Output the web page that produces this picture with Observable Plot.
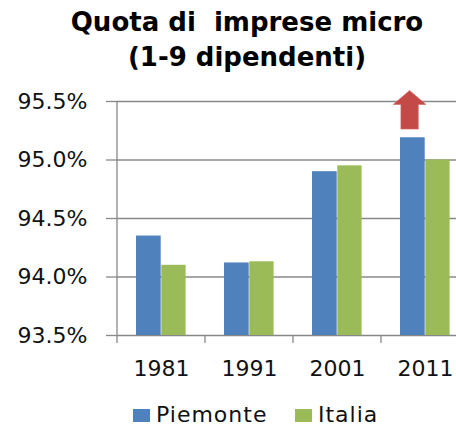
<!DOCTYPE html>
<html>
<head>
<meta charset="utf-8">
<script src="https://cdn.jsdelivr.net/npm/d3@7"></script>
<script src="https://cdn.jsdelivr.net/npm/@observablehq/plot@0.6"></script>
<style>
  html, body { margin: 0; padding: 0; background: #fff; overflow: hidden; }
  #wrap { width: 456px; height: 426px; position: relative; overflow: hidden; }
  #title { position: absolute; left: 0; top: 0; width: 494px; height: 76px; box-sizing: border-box; padding-top: 4.5px;
    text-align: center; font-family: "DejaVu Sans", sans-serif; font-weight: 700; font-size: 26px; line-height: 35px;
    color: #000; white-space: pre; }
  #chart { position: absolute; left: 0; top: 76px; }
  #legend { position: absolute; left: 0; top: 402px; width: 456px; height: 24px;
    font-family: "DejaVu Sans", sans-serif; font-size: 22px; color: #111; letter-spacing: 1px; }
  .sw { position: absolute; top: 7px; width: 17px; height: 13px; }
  .lt { position: absolute; top: 1px; line-height: 24px; white-space: nowrap; }
</style>
</head>
<body>
<div id="wrap">
  <div id="title"></div>
  <div id="chart"></div>
  <div id="legend"></div>
</div>
<script>
const titleLines = ["Quota di  imprese micro", "(1-9 dipendenti)"];
const years = ["1981", "1991", "2001", "2011"];
const seriesNames = ["Piemonte", "Italia"];
const piemonte = [94.35, 94.12, 94.90, 95.19];
const italia = [94.10, 94.13, 94.95, 95.00];
const yTicks = [93.5, 94.0, 94.5, 95.0, 95.5];
const colors = ["#4F81BD", "#9BBB59"];
const arrowYear = ["2011"];
const arrowLevels = [95.26, 95.47, 95.59]; // stem bottom, head base, tip

document.getElementById("title").textContent = titleLines.join("\n");

const rows = [];
years.forEach((y, i) => {
  rows.push({year: y, series: seriesNames[0], value: piemonte[i]});
  rows.push({year: y, series: seriesNames[1], value: italia[i]});
});
const yMin = yTicks[0], yMax = yTicks[yTicks.length - 1];
const gray = "#888888";

function decorations(index, scales) {
  const x = scales.x, y = scales.y;
  const bw = x.bandwidth ? x.bandwidth() : (x(years[1]) - x(years[0]));
  const g = d3.create("svg:g");
  const x0 = x(years[0]);
  g.append("line").attr("x1", x0).attr("x2", x0).attr("y1", y(yMax)).attr("y2", y(yMin) + 8)
    .attr("stroke", gray).attr("stroke-width", 1.3);
  years.forEach((yr) => {
    const xx = x(yr) + bw;
    g.append("line").attr("x1", xx).attr("x2", xx).attr("y1", y(yMin)).attr("y2", y(yMin) + 8)
      .attr("stroke", gray).attr("stroke-width", 1.3);
  });
  arrowYear.forEach((yr) => {
    const cx = x(yr) + 19 + 12.6 - 3;
    const yb = y(arrowLevels[0]), yh = y(arrowLevels[1]), yt = y(arrowLevels[2]);
    const sw = 8.7, hw = 16.4;
    const pts = [[cx - sw, yb], [cx - sw, yh], [cx - hw, yh], [cx, yt], [cx + hw, yh], [cx + sw, yh], [cx + sw, yb]];
    g.append("path").attr("d", "M" + pts.map(p => p.join(",")).join("L") + "Z")
      .attr("fill", "#C44A48").attr("stroke", "#D06A66").attr("stroke-width", 0.6);
  });
  return g.node();
}

const chart = Plot.plot({
  width: 456,
  height: 326,
  marginTop: 25,
  marginBottom: 67,
  marginLeft: 116,
  marginRight: 0,
  style: {fontFamily: "DejaVu Sans, sans-serif", fontSize: "22px", color: "#111", background: "#fff", overflow: "hidden"},
  x: {domain: years, range: [116, 470.6], padding: 0, label: null},
  y: {domain: [yMin, yMax], label: null},
  marks: [
    Plot.ruleY(yTicks, {stroke: gray, strokeWidth: 1.3, strokeOpacity: 1}),
    Plot.barY(rows.filter(d => d.series === seriesNames[0]), {x: "year", y1: yMin, y2: "value", fill: colors[0], insetLeft: 19, insetRight: 44.3}),
    Plot.barY(rows.filter(d => d.series === seriesNames[1]), {x: "year", y1: yMin, y2: "value", fill: colors[1], insetLeft: 44.3, insetRight: 19.4}),
    Plot.axisY({ticks: yTicks, tickFormat: d => d.toFixed(1) + "%", tickSize: 10, tickPadding: 19, stroke: gray, strokeWidth: 1.3, strokeOpacity: 1, label: null, fontSize: 22, fill: "#111"}),
    Plot.axisX({tickSize: 0, tickPadding: 24.4, label: null, fontSize: 22, fill: "#111"}),
    decorations
  ]
});
document.getElementById("chart").appendChild(chart);

const legend = document.getElementById("legend");
const legendX = [[133, 156], [295, 318]];
seriesNames.forEach((name, i) => {
  const sw = document.createElement("div");
  sw.className = "sw"; sw.style.left = legendX[i][0] + "px"; sw.style.background = colors[i];
  legend.appendChild(sw);
  const t = document.createElement("div");
  t.className = "lt"; t.style.left = legendX[i][1] + "px"; t.textContent = name;
  legend.appendChild(t);
});
</script>
</body>
</html>
